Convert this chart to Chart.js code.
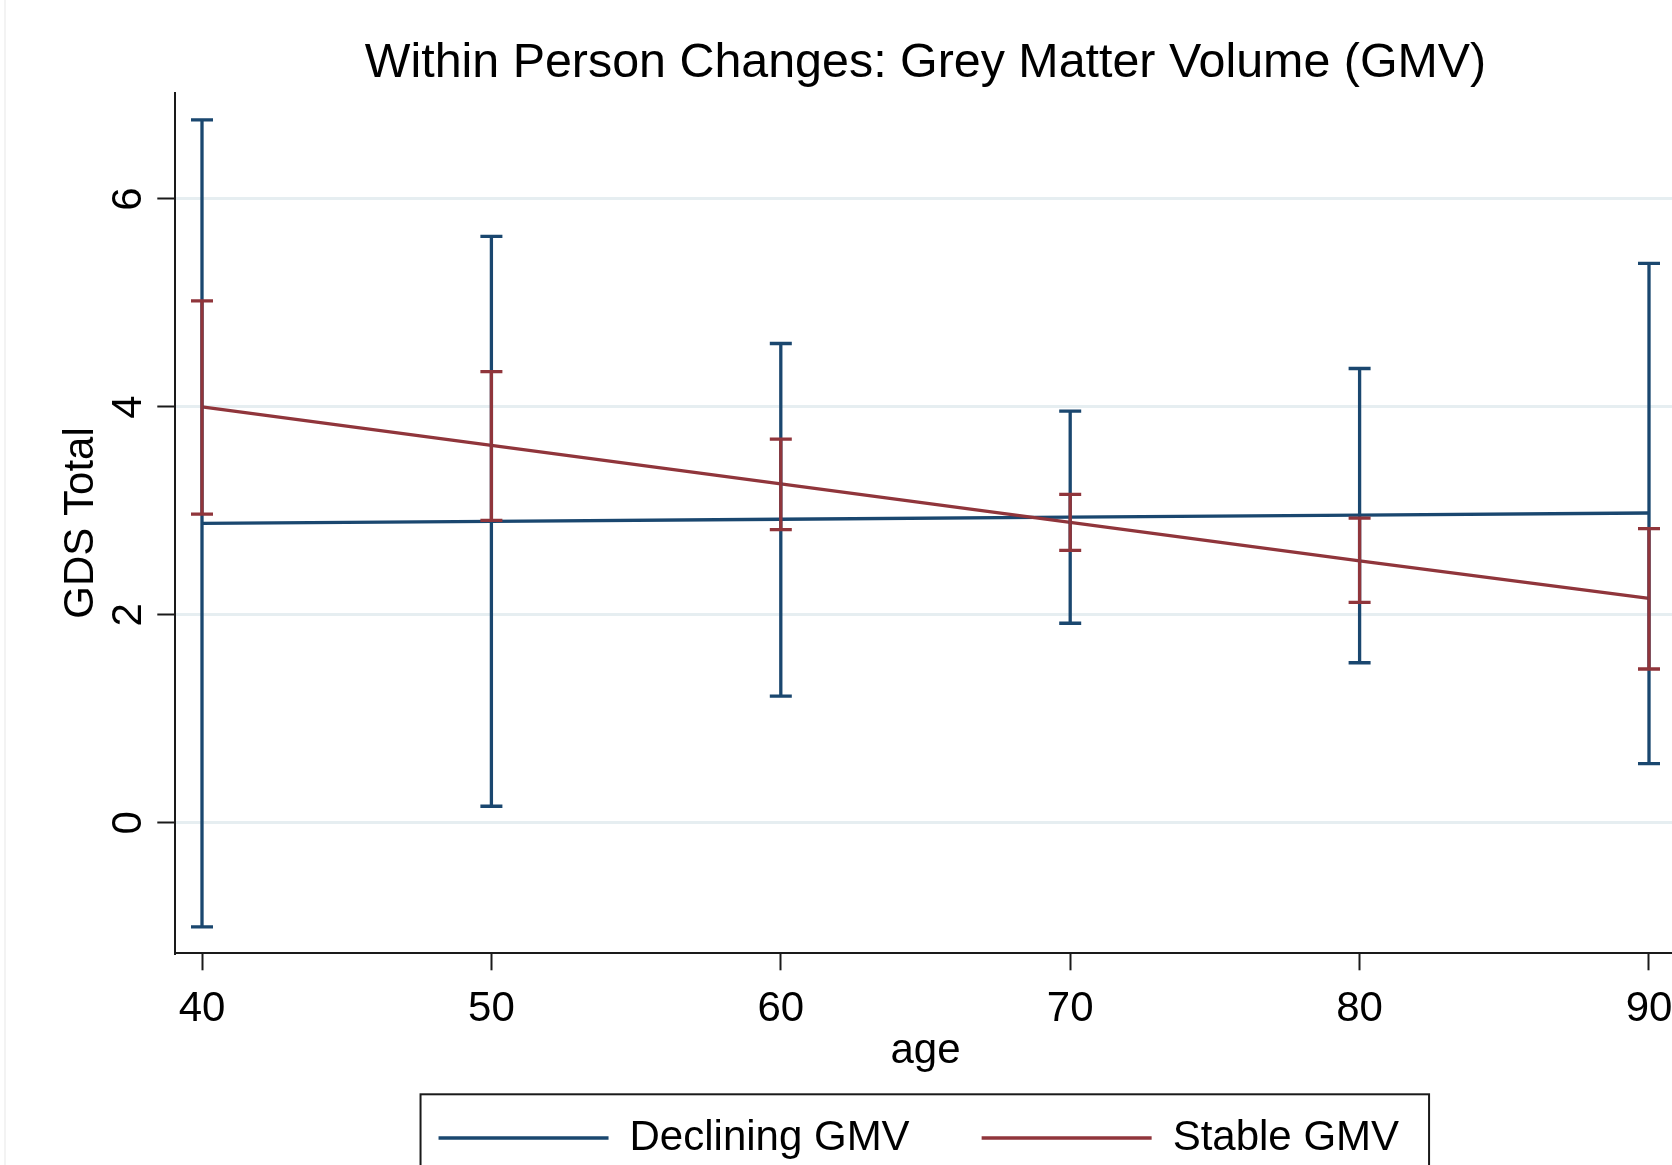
<!DOCTYPE html>
<html>
<head>
<meta charset="utf-8">
<script src="https://cdn.jsdelivr.net/npm/chart.js@4.4.1/dist/chart.umd.min.js"></script>
<style>
  html, body { margin: 0; padding: 0; background: #ffffff; overflow: hidden; }
  #wrap { position: relative; width: 1672px; height: 1165px; overflow: hidden; }
  #edge { position: absolute; left: 4px; top: 0; width: 2px; height: 1165px; background: #f3f3f3; }
  canvas { display: block; position: absolute; left: 0; top: 0; }
</style>
</head>
<body>
<div id="wrap"><canvas id="c" width="1690" height="1169"></canvas><div id="edge"></div></div>
<script>
// ---- data ----
const ages = [40, 50, 60, 70, 80, 90];
const decliningMean = [2.88, 2.90, 2.92, 2.94, 2.96, 2.98];
const decliningLow  = [-1.00, 0.16, 1.22, 1.92, 1.54, 0.57];
const decliningHigh = [6.76, 5.64, 4.61, 3.96, 4.37, 5.38];
const stableMean = [4.00, 3.63, 3.26, 2.89, 2.52, 2.16];
const stableLow  = [2.97, 2.91, 2.82, 2.62, 2.12, 1.48];
const stableHigh = [5.02, 4.34, 3.69, 3.16, 2.93, 2.83];
const xTicks = [40, 50, 60, 70, 80, 90];
const yTicks = [0, 2, 4, 6];
const seriesNames = ['Declining GMV', 'Stable GMV'];

const NAVY = '#1a476f';
const MAROON = '#90353b';
const FONT = "'Liberation Sans', Arial, sans-serif";
const AXIS = '#1a1a1a';
const LW = 3.3;

const errorBarPlugin = {
  id: 'errorBars',
  afterDatasetsDraw(chart) {
    const { ctx, scales: { x, y } } = chart;
    const groups = [
      { low: decliningLow, high: decliningHigh, color: NAVY },
      { low: stableLow, high: stableHigh, color: MAROON }
    ];
    ctx.save();
    ctx.lineCap = 'butt';
    groups.forEach(g => {
      ctx.strokeStyle = g.color;
      ctx.lineWidth = LW;
      ages.forEach((a, i) => {
        const px = x.getPixelForValue(a);
        const yl = y.getPixelForValue(g.low[i]);
        const yh = y.getPixelForValue(g.high[i]);
        ctx.beginPath();
        ctx.moveTo(px, yl); ctx.lineTo(px, yh);
        ctx.moveTo(px - 11, yl); ctx.lineTo(px + 11, yl);
        ctx.moveTo(px - 11, yh); ctx.lineTo(px + 11, yh);
        ctx.stroke();
      });
    });
    ctx.restore();
  }
};

const legendBoxPlugin = {
  id: 'legendBox',
  afterLayout(chart) {
    const lg = chart.legend;
    if (lg) { lg.left -= 6.7; lg.right -= 6.7; }
  },
  afterDraw(chart) {
    const lg = chart.legend;
    if (!lg || !lg.legendHitBoxes || !lg.legendHitBoxes.length) return;
    const hb = lg.legendHitBoxes;
    const first = hb[0], last = hb[hb.length - 1];
    const left = first.left - 18;
    const right = last.left + last.width + 30;
    const mid = first.top + first.height / 2;
    const top = mid - 43.7;
    const bottom = mid + 43.7;
    const ctx = chart.ctx;
    ctx.save();
    ctx.strokeStyle = AXIS;
    ctx.lineWidth = 2;
    ctx.strokeRect(left, top, right - left, bottom - top);
    ctx.restore();
  }
};

const ctx = document.getElementById('c').getContext('2d');
new Chart(ctx, {
  type: 'line',
  data: {
    datasets: [
      {
        label: seriesNames[0],
        data: ages.map((a, i) => ({ x: a, y: decliningMean[i] })),
        borderColor: NAVY,
        backgroundColor: NAVY,
        borderWidth: LW,
        pointRadius: 0,
        tension: 0,
        order: 1
      },
      {
        label: seriesNames[1],
        data: ages.map((a, i) => ({ x: a, y: stableMean[i] })),
        borderColor: MAROON,
        backgroundColor: MAROON,
        borderWidth: LW,
        pointRadius: 0,
        tension: 0,
        order: 0
      }
    ]
  },
  options: {
    responsive: false,
    animation: false,
    devicePixelRatio: 1,
    layout: { padding: { left: 0, right: 14, top: 0, bottom: 0 } },
    plugins: {
      tooltip: { enabled: false },
      title: {
        display: true,
        fullSize: false,
        text: 'Within Person Changes: Grey Matter Volume (GMV)',
        color: '#000',
        font: { family: FONT, size: 48.4, weight: 'normal', lineHeight: 1.2 },
        padding: { top: 34.66, bottom: -0.14 }
      },
      legend: {
        display: true,
        position: 'bottom',
        fullSize: false,
        align: 'center',
        labels: {
          color: '#000',
          font: { family: FONT, size: 42, lineHeight: 1.2 },
          boxWidth: 170,
          boxHeight: 3.3,
          padding: 72,
          generateLabels: () => [
            { text: seriesNames[0], fillStyle: NAVY, strokeStyle: NAVY, lineWidth: 0, hidden: false, datasetIndex: 0, fontColor: '#000' },
            { text: seriesNames[1], fillStyle: MAROON, strokeStyle: MAROON, lineWidth: 0, hidden: false, datasetIndex: 1, fontColor: '#000' }
          ]
        }
      }
    },
    scales: {
      x: {
        type: 'linear',
        position: 'bottom',
        min: 39.067,
        max: 90.933,
        afterBuildTicks: (s) => { s.ticks = xTicks.map(v => ({ value: v })); },
        ticks: {
          includeBounds: false,
          stepSize: 10,
          color: '#000',
          padding: 13.5,
          maxRotation: 0,
          minRotation: 0,
          autoSkip: false,
          font: { family: FONT, size: 42, lineHeight: 1.2 }
        },
        grid: {
          display: true,
          drawOnChartArea: false,
          drawTicks: true,
          tickLength: 17,
          tickColor: AXIS,
          tickWidth: 2
        },
        border: { display: true, color: AXIS, width: 2 },
        title: {
          display: true,
          text: 'age',
          color: '#000',
          font: { family: FONT, size: 42, lineHeight: 1.2 },
          padding: { top: -21.4, bottom: -31.7 }
        }
      },
      y: {
        type: 'linear',
        position: 'left',
        min: -1.254,
        max: 7.023,
        afterBuildTicks: (s) => { s.ticks = yTicks.map(v => ({ value: v })); },
        afterFit: (s) => { s.width = 175; },
        ticks: {
          includeBounds: false,
          stepSize: 2,
          color: '#000',
          padding: 15.7,
          minRotation: 90,
          maxRotation: 90,
          crossAlign: 'center',
          autoSkip: false,
          font: { family: FONT, size: 42, lineHeight: 1.2 }
        },
        grid: {
          display: true,
          drawOnChartArea: true,
          color: '#e6eef1',
          lineWidth: 3,
          drawTicks: true,
          tickLength: 17.7,
          tickColor: AXIS,
          tickWidth: 2
        },
        border: { display: true, color: AXIS, width: 2 },
        title: {
          display: true,
          text: 'GDS Total',
          color: '#000',
          font: { family: FONT, size: 42, lineHeight: 1.2 },
          padding: { top: 56.4, bottom: 0 }
        }
      }
    }
  },
  plugins: [errorBarPlugin, legendBoxPlugin]
});
</script>
</body>
</html>
